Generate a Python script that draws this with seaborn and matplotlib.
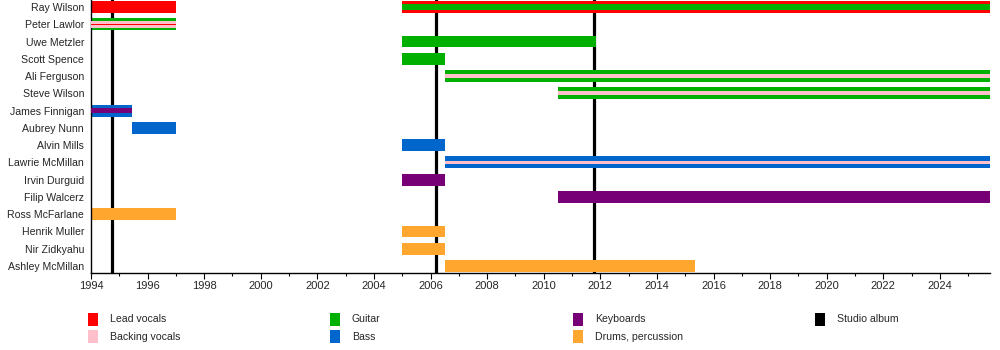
import matplotlib
matplotlib.use("Agg")
import matplotlib.pyplot as plt
from matplotlib.patches import Rectangle
import seaborn as sns

sns.set_theme(style="white")
plt.rcParams['font.family'] = ['Liberation Sans', 'DejaVu Sans']

END = 2025.77

members = ["Ray Wilson", "Peter Lawlor", "Uwe Metzler", "Scott Spence", "Ali Ferguson",
           "Steve Wilson", "James Finnigan", "Aubrey Nunn", "Alvin Mills", "Lawrie McMillan",
           "Irvin Durguid", "Filip Walcerz", "Ross McFarlane", "Henrik Muller", "Nir Zidkyahu",
           "Ashley McMillan"]

role_colors = {
    "Lead vocals": "#ff0000",
    "Backing vocals": "#ffc0cb",
    "Guitar": "#00b000",
    "Bass": "#0066cc",
    "Keyboards": "#770077",
    "Drums, percussion": "#ffa62f",
}

# main bars
bar_member = ["Ray Wilson", "Ray Wilson", "Peter Lawlor", "Uwe Metzler", "Scott Spence",
              "Ali Ferguson", "Steve Wilson", "James Finnigan", "Aubrey Nunn", "Alvin Mills",
              "Lawrie McMillan", "Irvin Durguid", "Filip Walcerz", "Ross McFarlane",
              "Henrik Muller", "Nir Zidkyahu", "Ashley McMillan"]
bar_start = [1994.0, 2005.0, 1994.0, 2005.0, 2005.0, 2006.5, 2010.5, 1994.0, 1995.45, 2005.0,
             2006.5, 2005.0, 2010.5, 1994.0, 2005.0, 2005.0, 2006.5]
bar_end = [1997.0, END, 1997.0, 2011.84, 2006.5, END, END, 1995.45, 1997.0, 2006.5,
           END, 2006.5, END, 1997.0, 2006.5, 2006.5, 2015.34]
bar_role = ["Lead vocals", "Lead vocals", "Guitar", "Guitar", "Guitar", "Guitar", "Guitar",
            "Bass", "Bass", "Bass", "Bass", "Keyboards", "Keyboards", "Drums, percussion",
            "Drums, percussion", "Drums, percussion", "Drums, percussion"]

# secondary-role stripes drawn inside the bars
stripe_member = ["Ray Wilson", "Peter Lawlor", "Peter Lawlor", "Ali Ferguson", "Steve Wilson",
                 "James Finnigan", "Lawrie McMillan"]
stripe_start = [2005.0, 1994.0, 1994.0, 2006.5, 2010.5, 1994.0, 2006.5]
stripe_end = [END, 1997.0, 1997.0, END, END, 1995.45, END]
stripe_role = ["Guitar", "Backing vocals", "Lead vocals", "Backing vocals", "Backing vocals",
               "Keyboards", "Backing vocals"]
stripe_size = [0.30, 0.42, 0.07, 0.22, 0.22, 0.25, 0.20]

albums = [1994.74, 2006.2, 2011.77]

fig = plt.figure(figsize=(10, 3.5), dpi=100)
ax = fig.add_axes([0.091, 0.22, 0.899, 0.78])

ypos = {m: i for i, m in enumerate(members)}

for x in albums:
    ax.axvline(x, color="black", lw=2.3, zorder=1)

for m, s, e, r in zip(bar_member, bar_start, bar_end, bar_role):
    ax.barh(ypos[m], e - s, left=s, height=0.69, color=role_colors[r], lw=0, zorder=2)

for m, s, e, r, h in zip(stripe_member, stripe_start, stripe_end, stripe_role, stripe_size):
    ax.barh(ypos[m], e - s, left=s, height=h, color=role_colors[r], lw=0, zorder=3)

ax.set_ylim(len(members) - 1 + 0.405, -0.405)
ax.set_xlim(1994, END)
ax.set_yticks(range(len(members)))
ax.set_yticklabels(members, fontsize=7.6)
ax.set_xticks(range(1994, 2025, 2))
ax.set_xticks(range(1994, 2026), minor=True)
ax.tick_params(axis="x", which="major", length=4, width=0.8, color="black", labelsize=8,
               direction="out", bottom=True, pad=2)
ax.tick_params(axis="x", which="minor", length=2.5, width=0.8, color="black", bottom=True,
               direction="out")
ax.tick_params(axis="y", length=0, pad=5)
for side in ["top", "right"]:
    ax.spines[side].set_visible(False)
for side in ["left", "bottom"]:
    ax.spines[side].set_color("black")
    ax.spines[side].set_linewidth(1)
ax.grid(False)

# legend
legend_items = [("Lead vocals", "#ff0000", 88, 313), ("Backing vocals", "#ffc0cb", 88, 330),
                ("Guitar", "#00b000", 330, 313), ("Bass", "#0066cc", 330, 330),
                ("Keyboards", "#770077", 573, 313), ("Drums, percussion", "#ffa62f", 573, 330),
                ("Studio album", "#000000", 815, 313)]
W, H = 1000, 350
for label, col, px, py in legend_items:
    fig.add_artist(Rectangle((px / W, (H - py - 13) / H), 10 / W, 13 / H, color=col,
                             transform=fig.transFigure, lw=0))
    fig.text((px + 22) / W, (H - py - 6.5) / H, label, fontsize=7.6, va="center", ha="left")

fig.savefig("out.png", dpi=100)
